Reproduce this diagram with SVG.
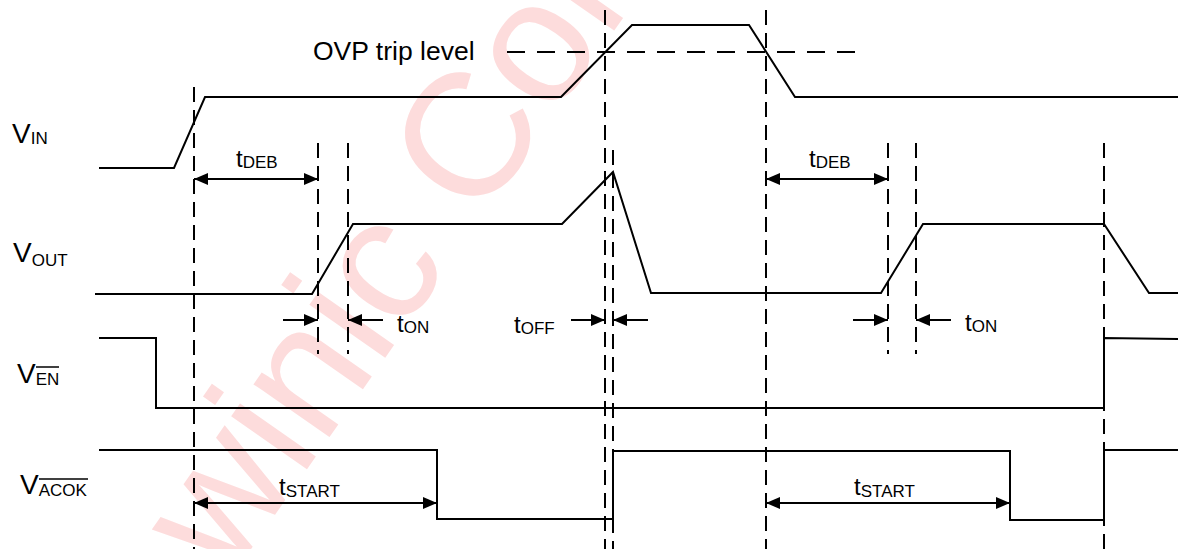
<svg xmlns="http://www.w3.org/2000/svg" width="1178" height="549" viewBox="0 0 1178 549">
<style>
.sig{fill:none;stroke:#000;stroke-width:2;stroke-linejoin:miter}
.dv{fill:none;stroke:#000;stroke-width:2;stroke-dasharray:15 8}
.dh{fill:none;stroke:#000;stroke-width:2;stroke-dasharray:18 12}
.arr{fill:none;stroke:#000;stroke-width:2}
.lbl{font-family:"Liberation Sans",Arial,sans-serif;font-size:28px;fill:#000}
.t{font-family:"Liberation Sans",Arial,sans-serif;font-size:24px;fill:#000}
.sub{font-size:17px}
.ovl{stroke:#000;stroke-width:1.5}
.wm{font-family:"Liberation Sans",Arial,sans-serif;font-size:175px;fill:#fddcdc}
</style>
<defs>
<marker id="ah" viewBox="0 0 14 12" refX="14" refY="6" markerWidth="14" markerHeight="12" orient="auto-start-reverse" markerUnits="userSpaceOnUse"><path d="M0,0 L14,6 L0,12 Z" fill="#000"/></marker>
</defs>
<rect width="1178" height="549" fill="#fff"/>
<g id="watermark"><text class="wm" transform="translate(172,662) rotate(-55)">awinic Confidential</text></g>

<g id="ovp-level">
<line class="dh" x1="507" y1="52" x2="858" y2="52"/>
<text class="lbl" x="313" y="60" style="font-size:26.5px">OVP trip level</text>
</g>

<g id="guides">
<line class="dv" x1="194" y1="87" x2="194" y2="549"/>
<line class="dv" x1="318" y1="143" x2="318" y2="354"/>
<line class="dv" x1="348" y1="143" x2="348" y2="354"/>
<line class="dv" x1="605" y1="10" x2="605" y2="549"/>
<line class="dv" x1="613" y1="150" x2="613" y2="549"/>
<line class="dv" x1="766" y1="10" x2="766" y2="549"/>
<line class="dv" x1="888" y1="143" x2="888" y2="354"/>
<line class="dv" x1="916" y1="143" x2="916" y2="354"/>
<line class="dv" x1="1104" y1="143" x2="1104" y2="549"/>
</g>

<g id="vin">
<text class="lbl" x="12" y="143">V<tspan class="sub" dy="1">IN</tspan></text>
<polyline class="sig" points="99,168 174,168 205,97 561,97 632,25 749,25 795,97 1178,97"/>
</g>

<g id="vout">
<text class="lbl" x="13" y="262">V<tspan class="sub" dy="4">OUT</tspan></text>
<polyline class="sig" points="95,294 312,294 353,224 562,224 613,172 651,293 881,293 923,224 1104,224 1149,293 1178,293"/>
</g>

<g id="ven">
<text class="lbl" x="17" y="383">V<tspan class="sub" dy="2">EN</tspan></text>
<line class="ovl" x1="36" y1="367" x2="59" y2="367"/>
<polyline class="sig" points="99,338 156,338 156,408 1104,408 1104,338 1178,339"/>
</g>

<g id="vacok">
<text class="lbl" x="20" y="494">V<tspan class="sub" dy="2">ACOK</tspan></text>
<line class="ovl" x1="39" y1="479" x2="88" y2="479"/>
<polyline class="sig" points="99,450 437,450 437,519 613,519 613,451 1010,451 1010,520 1104,520 1104,450 1178,450"/>
</g>

<g id="connectors">
<line class="arr" x1="194" y1="179" x2="318" y2="179" marker-start="url(#ah)" marker-end="url(#ah)"/>
<line class="arr" x1="766" y1="179" x2="888" y2="179" marker-start="url(#ah)" marker-end="url(#ah)"/>
<line class="arr" x1="283" y1="320" x2="318" y2="320" marker-end="url(#ah)"/>
<line class="arr" x1="383" y1="320" x2="348" y2="320" marker-end="url(#ah)"/>
<line class="arr" x1="571" y1="320" x2="605" y2="320" marker-end="url(#ah)"/>
<line class="arr" x1="648" y1="320" x2="613" y2="320" marker-end="url(#ah)"/>
<line class="arr" x1="853" y1="320" x2="888" y2="320" marker-end="url(#ah)"/>
<line class="arr" x1="951" y1="320" x2="916" y2="320" marker-end="url(#ah)"/>
<line class="arr" x1="194" y1="503" x2="437" y2="503" marker-start="url(#ah)" marker-end="url(#ah)"/>
<line class="arr" x1="766" y1="503" x2="1010" y2="503" marker-start="url(#ah)" marker-end="url(#ah)"/>
</g>

<g id="timing-labels">
<text class="t" x="236" y="167">t<tspan class="sub" dy="1">DEB</tspan></text>
<text class="t" x="809" y="167">t<tspan class="sub" dy="1">DEB</tspan></text>
<text class="t" x="397" y="332">t<tspan class="sub" dy="1">ON</tspan></text>
<text class="t" x="514" y="333">t<tspan class="sub" dy="1">OFF</tspan></text>
<text class="t" x="965" y="331">t<tspan class="sub" dy="1">ON</tspan></text>
<text class="t" x="279" y="495">t<tspan class="sub" dy="2">START</tspan></text>
<text class="t" x="854" y="495">t<tspan class="sub" dy="2">START</tspan></text>
</g>
</svg>
